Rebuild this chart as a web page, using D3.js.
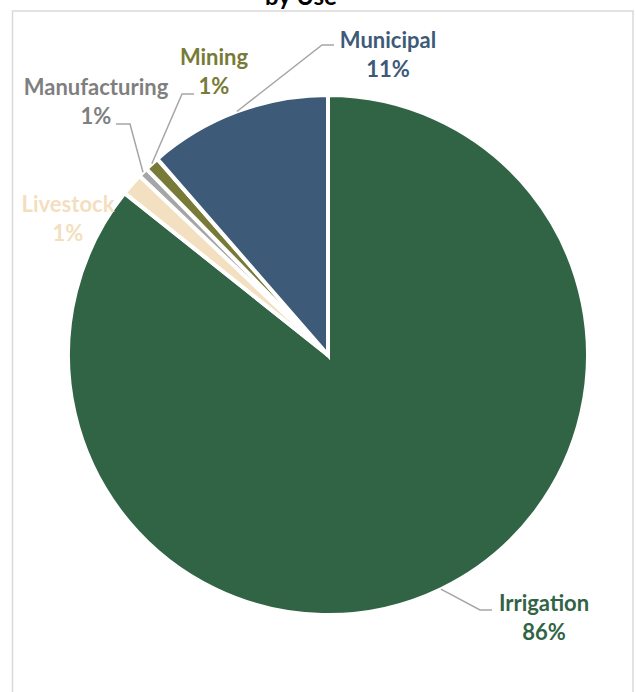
<!DOCTYPE html>
<html>
<head>
<meta charset="utf-8">
<script src="https://cdn.jsdelivr.net/npm/d3@7"></script>
<style>
  body { margin: 0; background: #fff; }
  svg { display: block; }
  .lbl { font-family: Lato, "Noto Sans", sans-serif; font-weight: bold; font-size: 22px; }
</style>
</head>
<body>
<div id="chart"></div>
<script>
var width = 636, height = 692;

// data
var categories = ["Irrigation", "Livestock", "Manufacturing", "Mining", "Municipal"];
var values = [85.7, 1.4, 0.6, 0.9, 11.4];
var colors = ["#316445", "#f3e0c0", "#a6a6a6", "#787a37", "#3d5a78"];
var labelColors = ["#316445", "#f3dfc0", "#7f7f7f", "#787a37", "#3d5a78"];

// label layout (text centre, leader elbow, side of label)
var labelLayout = {
	"Irrigation":    { x: 544, y: 611, elbow: [480, 610], side: 1 },
	"Livestock":     { x: 68,  y: 212, elbow: null },
	"Manufacturing": { x: 96,  y: 95,  elbow: [130, 124], side: -1 },
	"Mining":        { x: 214, y: 65,  elbow: [182, 94], side: 1 },
	"Municipal":     { x: 388, y: 48,  elbow: [322, 45], side: 1 }
};

var cx = 328, cy = 355, radius = 260;

var svg = d3.select("#chart").append("svg")
	.attr("width", width)
	.attr("height", height);

// chart border
svg.append("rect")
	.attr("x", 12.5).attr("y", 11)
	.attr("width", 620.5).attr("height", 700)
	.attr("fill", "none")
	.attr("stroke", "#d9d9d9")
	.attr("stroke-width", 1.5);

// title (top line is cut off in the source)
svg.append("text")
	.attr("x", 301).attr("y", 5)
	.attr("text-anchor", "middle")
	.attr("font-family", "Lato, 'Noto Sans', sans-serif")
	.attr("font-weight", "bold")
	.attr("font-size", 24)
	.attr("fill", "#000")
	.text("by Use");

var table = categories.map(function(c, i) { return { name: c, value: values[i], i: i }; });

var pie = d3.pie().sort(null).value(function(d) { return d.value; });
var arcs = pie(table);

var arc = d3.arc().innerRadius(0).outerRadius(radius);

var g = svg.append("g").attr("transform", "translate(" + cx + "," + cy + ")");

g.selectAll(".slice")
	.data(arcs)
	.enter()
	.append("path")
	.attr("class", "slice")
	.attr("d", arc)
	.attr("fill", function(d) { return colors[d.data.i]; })
	.attr("stroke", "#fff")
	.attr("stroke-width", 4)
	.attr("stroke-linejoin", "miter");

// leader lines
var total = d3.sum(values);
arcs.forEach(function(d) {
	var lay = labelLayout[d.data.name];
	if (!lay.elbow) return;
	var mid = (d.startAngle + d.endAngle) / 2;
	var r = radius;
	var p0 = [cx + r * Math.sin(mid), cy - r * Math.cos(mid)];
	var p1 = lay.elbow;
	var p2 = [p1[0] + lay.side * 12, p1[1]];
	if (d.data.name === "Manufacturing") p2 = [p1[0] - 14, p1[1]];
	svg.append("path")
		.attr("d", d3.line()([p0, p1, p2]))
		.attr("fill", "none")
		.attr("stroke", "#a6a6a6")
		.attr("stroke-width", 1.5);
});

// labels
arcs.forEach(function(d) {
	var lay = labelLayout[d.data.name];
	var t = svg.append("text")
		.attr("class", "lbl")
		.attr("text-anchor", "middle")
		.attr("fill", labelColors[d.data.i]);
	t.append("tspan").attr("x", lay.x).attr("y", lay.y).text(d.data.name);
	t.append("tspan").attr("x", lay.x).attr("y", lay.y + 29)
		.text(Math.round(d.data.value / total * 100) + "%");
});
</script>
</body>
</html>
